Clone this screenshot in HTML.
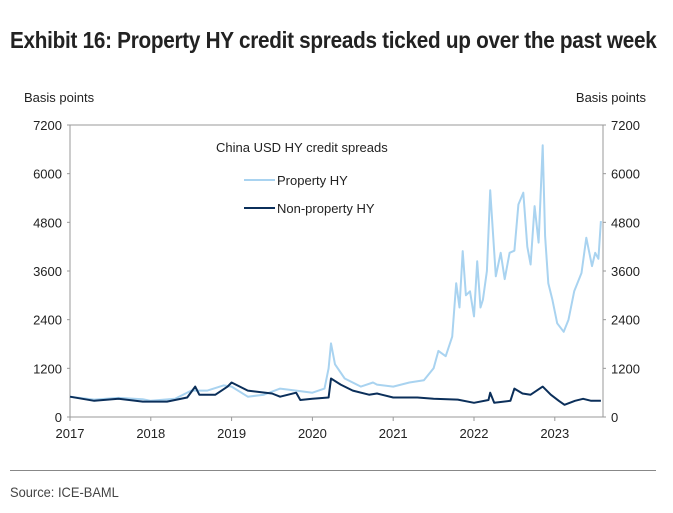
<!DOCTYPE html>
<html><head><meta charset="utf-8"><style>
body{margin:0;background:#fff;width:673px;height:513px;overflow:hidden;font-family:"Liberation Sans",sans-serif}
#title{position:absolute;left:10px;top:27px;font-family:"Liberation Sans",sans-serif;font-weight:bold;font-size:23px;color:#222;white-space:nowrap;transform:scaleX(0.9);transform-origin:left top;letter-spacing:-0.3px}
.rule{position:absolute;left:10px;width:646px;height:1px;background:#888}
#src{position:absolute;left:10px;top:484px;font-size:14px;color:#444;transform:scaleX(0.92);transform-origin:left top}
</style></head><body>
<div id="title">Exhibit 16: Property HY credit spreads ticked up over the past week</div>
<div class="rule" style="top:470px"></div>
<div id="src">Source: ICE-BAML</div>
<svg id="chart" width="673" height="513" style="position:absolute;left:0;top:0"></svg>
<script>
const yTicks=[0,1200,2400,3600,4800,6000,7200];
const xTicks=[2017,2018,2019,2020,2021,2022,2023];
const propX=[2017.0,2017.3,2017.6,2017.9,2018.0,2018.3,2018.5,2018.7,2018.9,2019.0,2019.2,2019.4,2019.6,2019.8,2020.0,2020.15,2020.2,2020.23,2020.28,2020.4,2020.6,2020.75,2020.8,2021.0,2021.2,2021.38,2021.5,2021.56,2021.65,2021.73,2021.78,2021.82,2021.86,2021.9,2021.95,2022.0,2022.04,2022.08,2022.11,2022.16,2022.2,2022.27,2022.33,2022.38,2022.44,2022.5,2022.55,2022.61,2022.66,2022.7,2022.75,2022.8,2022.85,2022.88,2022.92,2022.97,2023.03,2023.11,2023.17,2023.24,2023.33,2023.39,2023.46,2023.5,2023.54,2023.57];
const propY=[500,430,470,440,400,450,650,650,780,750,500,550,700,650,600,700,1200,1816,1300,950,750,850,800,750,850,908,1200,1630,1500,1980,3300,2700,4090,3000,3100,2480,3840,2700,2890,3600,5590,3470,4050,3400,4050,4100,5240,5530,4200,3760,5200,4300,6700,4460,3300,2890,2310,2100,2400,3100,3550,4420,3720,4050,3900,4830];
const npX=[2017.0,2017.3,2017.6,2017.9,2018.2,2018.45,2018.55,2018.6,2018.8,2018.95,2019.0,2019.2,2019.5,2019.6,2019.8,2019.85,2020.0,2020.2,2020.23,2020.35,2020.5,2020.7,2020.8,2021.0,2021.3,2021.5,2021.8,2022.0,2022.18,2022.2,2022.25,2022.45,2022.5,2022.6,2022.7,2022.85,2022.95,2023.05,2023.12,2023.25,2023.35,2023.45,2023.57];
const npY=[500,400,450,380,380,480,750,550,550,750,850,650,580,500,600,420,450,480,950,800,650,550,580,480,480,450,430,350,420,600,350,400,700,580,550,750,550,400,300,400,450,400,400];
const svg=document.getElementById('chart');
const NS='http://www.w3.org/2000/svg';
const L=70,R=603,T=125,B=417;
const xs=v=>L+(v-2017)*80.8;
const ys=v=>B-(v/7200)*(B-T);
function mk(t,a){const e=document.createElementNS(NS,t);for(const k in a)e.setAttribute(k,a[k]);svg.appendChild(e);return e;}
let e;
e=mk('rect',{x:L,y:T,width:R-L,height:B-T,fill:'none',stroke:'#999','stroke-width':1});


yTicks.forEach(v=>{
 e=mk('text',{x:L-8,y:ys(v)+5,'text-anchor':'end','font-size':13,fill:'#222'});e.textContent=v;
 
 
 e=mk('text',{x:R+8,y:ys(v)+5,'text-anchor':'start','font-size':13,fill:'#222'});e.textContent=v;
 
 
 mk('line',{x1:L-3,x2:L,y1:ys(v),y2:ys(v),stroke:'#999'});
 mk('line',{x1:R,x2:R+3,y1:ys(v),y2:ys(v),stroke:'#999'});
});
xTicks.forEach(v=>{
 e=mk('text',{x:xs(v),y:B+21,'text-anchor':'middle','font-size':13,fill:'#222'});e.textContent=v;
 
 
 mk('line',{x1:xs(v),x2:xs(v),y1:B,y2:B+4,stroke:'#999'});
});
function path(X,Y){return X.map((x,i)=>(i?'L':'M')+xs(x).toFixed(1)+','+ys(Y[i]).toFixed(1)).join('');}
e=mk('path',{d:path(propX,propY),fill:'none',stroke:'#a9d3f0','stroke-width':2,'stroke-linejoin':'round'});


e=mk('path',{d:path(npX,npY),fill:'none',stroke:'#0b2f5a','stroke-width':2,'stroke-linejoin':'round'});


e=mk('text',{x:216,y:152,'font-size':13,fill:'#222'});e.textContent='China USD HY credit spreads';


mk('line',{x1:244,x2:275,y1:180,y2:180,stroke:'#a9d3f0','stroke-width':2});
e=mk('text',{x:277,y:185,'font-size':13,fill:'#222'});e.textContent='Property HY';


mk('line',{x1:244,x2:275,y1:208,y2:208,stroke:'#0b2f5a','stroke-width':2});
e=mk('text',{x:277,y:213,'font-size':13,fill:'#222'});e.textContent='Non-property HY';


e=mk('text',{x:24,y:102,'font-size':13,fill:'#222'});e.textContent='Basis points';


e=mk('text',{x:646,y:102,'text-anchor':'end','font-size':13,fill:'#222'});e.textContent='Basis points';


</script>
</body></html>
